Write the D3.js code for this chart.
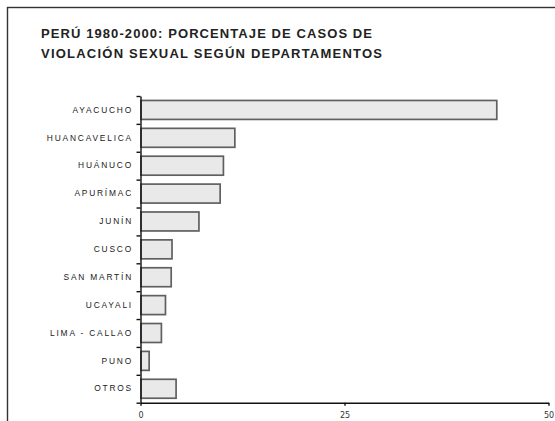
<!DOCTYPE html>
<html>
<head>
<meta charset="utf-8">
<script src="https://cdn.jsdelivr.net/npm/d3@7"></script>
<style>
  body { margin: 0; background: #fff; }
  svg { display: block; }
</style>
</head>
<body>
<div class="chart"></div>
<script>
// Perú 1980-2000: porcentaje de casos de violación sexual por departamento

var departamentos = ["AYACUCHO", "HUANCAVELICA", "HUÁNUCO", "APURÍMAC", "JUNÍN",
  "CUSCO", "SAN MARTÍN", "UCAYALI", "LIMA - CALLAO", "PUNO", "OTROS"];
var porcentajes = [43.6, 11.5, 10.1, 9.7, 7.1, 3.8, 3.7, 3.0, 2.5, 1.0, 4.3];
var xTicks = [0, 25, 50];
var titulo = ["PERÚ 1980-2000: PORCENTAJE DE CASOS DE",
  "VIOLACIÓN SEXUAL SEGÚN DEPARTAMENTOS"];

var svgWidth = 555;
var svgHeight = 421;

var margin = { top: 96, left: 140.5, right: 6.5, bottom: 18.3 };
var width = svgWidth - margin.left - margin.right;
var height = svgHeight - margin.top - margin.bottom;

var svg = d3.select(".chart")
  .append("svg")
  .attr("width", svgWidth)
  .attr("height", svgHeight);

// outer frame (runs off the right and bottom edges)
svg.append("rect")
  .attr("x", 7.5)
  .attr("y", 7.5)
  .attr("width", 600)
  .attr("height", 500)
  .attr("fill", "none")
  .attr("stroke", "#333")
  .attr("stroke-width", 1.4);

// title, stretched to the width it has in the original
var titleWidths = [331, 341];
svg.selectAll(".title")
  .data(titulo)
  .enter()
  .append("text")
  .attr("class", "title")
  .attr("x", 41)
  .attr("y", (d, i) => 38 + i * 19.6)
  .attr("textLength", (d, i) => titleWidths[i])
  .attr("lengthAdjust", "spacing")
  .attr("font-family", "Liberation Sans, Arial, sans-serif")
  .attr("font-size", "13px")
  .attr("font-weight", "bold")
  .attr("fill", "#222")
  .text(d => d);

var chartGroup = svg.append("g")
  .attr("transform", `translate(${margin.left}, ${margin.top})`);

var xScale = d3.scaleLinear()
  .domain([0, 50])
  .range([0, width]);

var yScale = d3.scaleBand()
  .domain(departamentos)
  .range([0, height])
  .paddingInner(0.32)
  .paddingOuter(0.16);

// category boundary ticks
var edgeScale = d3.scaleLinear()
  .domain([0, departamentos.length])
  .range([0, height]);

var data = departamentos.map((d, i) => ({ nombre: d, valor: porcentajes[i] }));

// bars
chartGroup.selectAll("rect.bar")
  .data(data)
  .enter()
  .append("rect")
  .attr("class", "bar")
  .attr("x", xScale(0) + 0.5)
  .attr("y", d => yScale(d.nombre))
  .attr("width", d => xScale(d.valor) - xScale(0))
  .attr("height", yScale.bandwidth())
  .attr("fill", "#e9e9e9")
  .attr("stroke", "#606060")
  .attr("stroke-width", 1.7);

// y axis with boundary ticks
chartGroup.append("g")
  .call(d3.axisLeft(edgeScale)
    .tickValues(d3.range(departamentos.length + 1))
    .tickFormat("")
    .tickSize(4)
    .tickSizeOuter(0))
  .call(g => g.selectAll("path, line").attr("stroke", "#111").attr("stroke-width", 1.4));

// category labels
chartGroup.append("g")
  .call(d3.axisLeft(yScale).tickSize(0).tickPadding(7.5))
  .call(g => g.select(".domain").remove())
  .call(g => g.selectAll("text")
    .attr("font-family", "Liberation Sans, Arial, sans-serif")
    .attr("font-size", "8.4px")
    .attr("letter-spacing", "1.8px")
    .attr("fill", "#1a1a1a"));

// x axis
chartGroup.append("g")
  .attr("transform", `translate(0, ${height})`)
  .call(d3.axisBottom(xScale)
    .tickValues(xTicks)
    .tickSize(3)
    .tickSizeOuter(0)
    .tickPadding(7))
  .call(g => g.selectAll("path, line").attr("stroke", "#111").attr("stroke-width", 1.4))
  .call(g => g.selectAll("text")
    .attr("font-family", "DejaVu Sans, sans-serif")
    .attr("font-size", "8px")
    .attr("fill", "#333"));
</script>
</body>
</html>
